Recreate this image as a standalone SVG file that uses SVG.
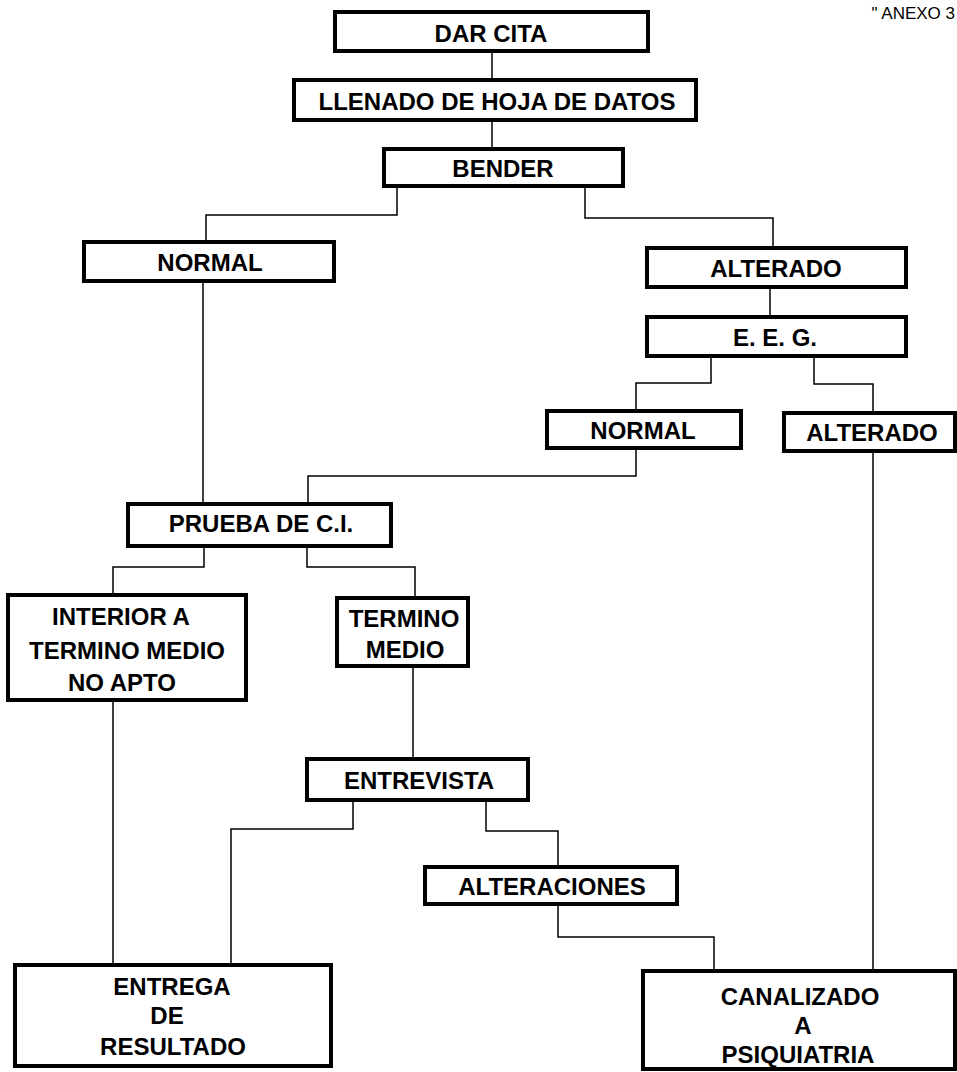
<svg xmlns="http://www.w3.org/2000/svg" width="957" height="1072" viewBox="0 0 957 1072">
<style>
.box{fill:#fff;stroke:#000;stroke-width:4}
.t{font-family:"Liberation Sans",Arial,sans-serif;font-weight:bold;font-size:24px;text-anchor:middle;fill:#000}
.c{fill:none;stroke:#000;stroke-width:1.5}
</style>
<rect width="957" height="1072" fill="#fff"/>
<text x="955" y="19" text-anchor="end" font-family="Liberation Sans, Arial, sans-serif" font-size="17" fill="#000">" ANEXO 3</text>
<g id="connectors">
<path class="c" d="M492 53V78"/>
<path class="c" d="M492 122V147"/>
<path class="c" d="M397 188V215H206V240"/>
<path class="c" d="M585 188V218H773V246"/>
<path class="c" d="M770 289V315"/>
<path class="c" d="M711 358V383H636V409"/>
<path class="c" d="M814 358V384H873V411"/>
<path class="c" d="M636 450V476H308V502"/>
<path class="c" d="M203 283V502"/>
<path class="c" d="M873 453V969"/>
<path class="c" d="M204 548V567H113V593"/>
<path class="c" d="M307 548V567H415V596"/>
<path class="c" d="M113 702V963"/>
<path class="c" d="M413 668V757"/>
<path class="c" d="M353 802V829H231V963"/>
<path class="c" d="M486 802V831H558V865"/>
<path class="c" d="M558 906V937H714V969"/>
</g>
<g id="dar-cita"><rect class="box" x="335" y="12" width="313" height="39"/><text class="t" x="491" y="42">DAR CITA</text></g>
<g id="llenado"><rect class="box" x="294" y="80" width="402" height="40"/><text class="t" x="497" y="110">LLENADO DE HOJA DE DATOS</text></g>
<g id="bender"><rect class="box" x="384" y="149" width="239" height="37"/><text class="t" x="503" y="177">BENDER</text></g>
<g id="normal1"><rect class="box" x="84" y="242" width="250" height="39"/><text class="t" x="210" y="271">NORMAL</text></g>
<g id="alterado1"><rect class="box" x="647" y="248" width="259" height="39"/><text class="t" x="776" y="277">ALTERADO</text></g>
<g id="eeg"><rect class="box" x="647" y="317" width="259" height="39"/><text class="t" x="775" y="346">E. E. G.</text></g>
<g id="normal2"><rect class="box" x="547" y="411" width="194" height="37"/><text class="t" x="643" y="439">NORMAL</text></g>
<g id="alterado2"><rect class="box" x="784" y="413" width="171" height="38"/><text class="t" x="872" y="441">ALTERADO</text></g>
<g id="prueba"><rect class="box" x="128" y="504" width="263" height="42"/><text class="t" x="261" y="532">PRUEBA DE C.I.</text></g>
<g id="interior"><rect class="box" x="8" y="595" width="238" height="105"/><text class="t" x="121" y="625">INTERIOR A</text><text class="t" x="127" y="659">TERMINO MEDIO</text><text class="t" x="122" y="691">NO APTO</text></g>
<g id="termino"><rect class="box" x="337" y="598" width="131" height="68"/><text class="t" x="404" y="627">TERMINO</text><text class="t" x="405" y="658">MEDIO</text></g>
<g id="entrevista"><rect class="box" x="307" y="759" width="221" height="41"/><text class="t" x="419" y="789">ENTREVISTA</text></g>
<g id="alteraciones"><rect class="box" x="425" y="867" width="252" height="37"/><text class="t" x="552" y="895">ALTERACIONES</text></g>
<g id="entrega"><rect class="box" x="15" y="965" width="316" height="101"/><text class="t" x="172" y="995">ENTREGA</text><text class="t" x="167" y="1024">DE</text><text class="t" x="173" y="1055">RESULTADO</text></g>
<g id="canalizado"><rect class="box" x="643" y="971" width="312" height="98"/><text class="t" x="800" y="1005">CANALIZADO</text><text class="t" x="803" y="1034">A</text><text class="t" x="798" y="1063">PSIQUIATRIA</text></g>
</svg>
